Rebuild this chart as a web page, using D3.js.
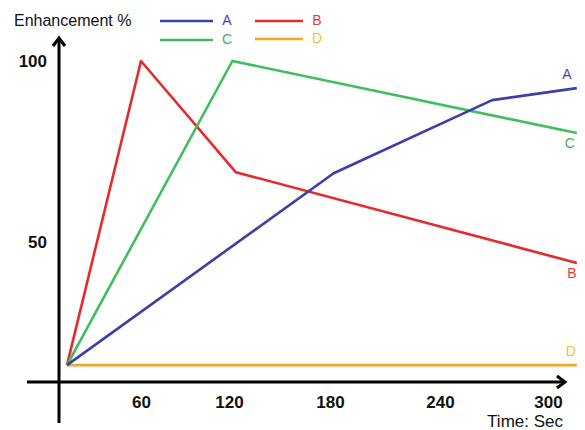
<!DOCTYPE html>
<html>
<head>
<meta charset="utf-8">
<script src="https://cdn.jsdelivr.net/npm/d3@7"></script>
<style>
  html, body { margin: 0; padding: 0; background: #fff; }
  svg { display: block; }
  text { font-family: "Liberation Sans", Arial, sans-serif; }
</style>
</head>
<body>
<svg id="chart" width="585" height="430"></svg>
<script>
// ---- data ----
const seriesNames = ["A", "B", "C", "D"];
const xTicks = [60, 120, 180, 240, 300];
const yTicks = [50, 100];
const seriesA = [[0, 16], [182, 69], [269, 89.2], [316, 92.5]];
const seriesB = [[0, 16], [60, 100], [124, 69.3], [316, 44.2]];
const seriesC = [[0, 16], [122, 100], [316, 80.1]];
const seriesD = [[0, 16], [316, 16]];
const xTitle = "Time: Sec";
const yTitle = "Enhancement %";

const lineColors = { A: "#3b3fa6", B: "#e8292b", C: "#3dbf5e", D: "#f5a524" };
const labelColors = { A: "#4545a8", B: "#e8393c", C: "#3fb25a", D: "#f2c12e" };

const svg = d3.select("#chart");

// schematic (non-uniform) time axis: piecewise linear scale
const x = d3.scaleLinear()
  .domain([0, 60, 120, 180, 240, 300])
  .range([67, 141, 229, 330, 440, 548]);
const y = d3.scaleLinear().domain([0, 100]).range([423, 61]);

const axisX0 = 27, axisX1 = 565, axisY = 382;
const axisLeftX = 59, axisTop = 38, axisBottom = 423;

// axes lines with arrows
const ax = svg.append("g").attr("stroke", "#000").attr("stroke-width", 3).attr("fill", "none");
ax.append("line").attr("x1", axisX0).attr("y1", axisY).attr("x2", axisX1 - 1).attr("y2", axisY);
ax.append("line").attr("x1", axisLeftX).attr("y1", axisBottom).attr("x2", axisLeftX).attr("y2", axisTop + 1);
ax.append("path").attr("d", `M${axisX1 - 8},${axisY - 6} L${axisX1},${axisY} L${axisX1 - 8},${axisY + 6}`)
  .attr("stroke-linejoin", "miter");
ax.append("path").attr("d", `M${axisLeftX - 6},${axisTop + 8} L${axisLeftX},${axisTop} L${axisLeftX + 6},${axisTop + 8}`)
  .attr("stroke-linejoin", "miter");

// tick labels via d3 axes
const gx = svg.append("g").attr("transform", `translate(0,${axisY})`)
  .call(d3.axisBottom(x).tickValues(xTicks).tickSize(0).tickPadding(14).tickFormat(d3.format("d")));
gx.select(".domain").remove();
gx.selectAll("text")
  .attr("font-family", "Liberation Sans, Arial, sans-serif")
  .attr("font-size", 17).attr("font-weight", "bold").attr("fill", "#111")
  .attr("dy", "0.71em");

const gy = svg.append("g").attr("transform", `translate(47,0)`)
  .call(d3.axisLeft(y).tickValues(yTicks).tickSize(0).tickPadding(0).tickFormat(d3.format("d")));
gy.select(".domain").remove();
gy.selectAll("text")
  .attr("font-family", "Liberation Sans, Arial, sans-serif")
  .attr("font-size", 17).attr("font-weight", "bold").attr("fill", "#111");

// titles
svg.append("text").attr("x", 14).attr("y", 26).attr("font-size", 16).attr("fill", "#111").text(yTitle);
svg.append("text").attr("x", 563).attr("y", 427).attr("text-anchor", "end")
  .attr("font-size", 17).attr("fill", "#111").text(xTitle);

// series lines
const line = d3.line().x(d => x(d[0])).y(d => y(d[1]));
const seriesData = { A: seriesA, B: seriesB, C: seriesC, D: seriesD };
const drawOrder = ["D", "B", "C", "A"];
drawOrder.forEach(k => {
  svg.append("path").datum(seriesData[k])
    .attr("d", line).attr("fill", "none")
    .attr("stroke", lineColors[k]).attr("stroke-width", 2.6)
    .attr("stroke-linejoin", "round");
});

// end labels
const endLabelOffset = { A: [-10, -13], B: [-5, 11], C: [-7, 11], D: [-6, -13] };
seriesNames.forEach(k => {
  const pts = seriesData[k];
  const last = pts[pts.length - 1];
  const o = endLabelOffset[k];
  svg.append("text")
    .attr("x", x(last[0]) + o[0]).attr("y", y(last[1]) + o[1])
    .attr("text-anchor", "middle").attr("dominant-baseline", "middle")
    .attr("font-size", 14).attr("fill", labelColors[k]).text(k);
});

// legend
const legendPos = { A: [160, 21], B: [255, 21], C: [160, 40], D: [255, 39] };
const legendLen = { A: 53, B: 48, C: 53, D: 48 };
seriesNames.forEach(k => {
  const [lx, ly] = legendPos[k];
  svg.append("line").attr("x1", lx).attr("y1", ly).attr("x2", lx + legendLen[k]).attr("y2", ly)
    .attr("stroke", lineColors[k]).attr("stroke-width", 2.6);
  svg.append("text").attr("x", lx + legendLen[k] + 14).attr("y", ly)
    .attr("text-anchor", "middle").attr("dominant-baseline", "middle")
    .attr("font-size", 14).attr("fill", labelColors[k]).text(k);
});
</script>
</body>
</html>
